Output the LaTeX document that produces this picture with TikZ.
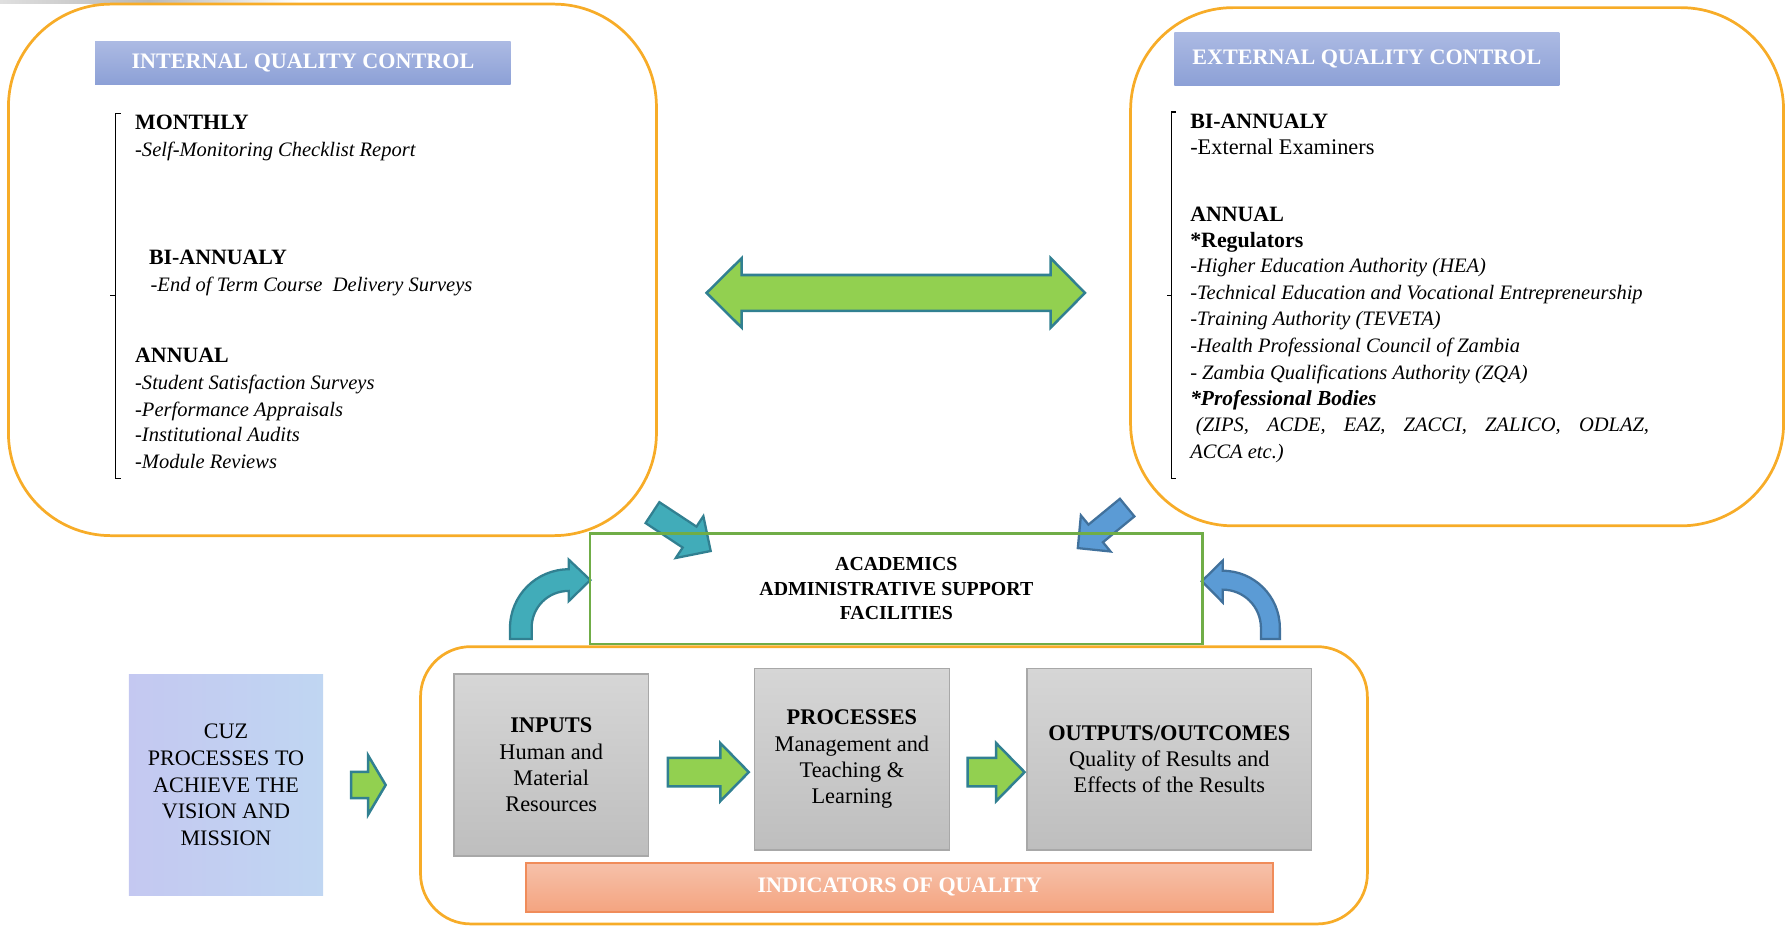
\documentclass[tikz,border=0pt]{standalone}
\usepackage{fontspec}
\setmainfont{Liberation Serif}

\definecolor{orbord}{RGB}{247,172,40}
\definecolor{titletop}{RGB}{172,186,227}
\definecolor{titlebot}{RGB}{140,160,214}
\definecolor{lgreen}{RGB}{146,208,80}
\definecolor{tealline}{RGB}{49,128,145}
\definecolor{tealfill}{RGB}{65,172,185}
\definecolor{bluefill}{RGB}{91,155,213}
\definecolor{blueline}{RGB}{65,113,156}
\definecolor{boxgreen}{RGB}{112,173,71}
\definecolor{graytop}{RGB}{214,214,214}
\definecolor{graybot}{RGB}{190,190,190}
\definecolor{grayline}{RGB}{168,168,168}
\definecolor{indtop}{RGB}{246,193,170}
\definecolor{indbot}{RGB}{244,164,128}
\definecolor{indline}{RGB}{240,140,90}
\definecolor{cuzleft}{RGB}{196,200,241}
\definecolor{cuzright}{RGB}{192,214,242}

\begin{document}
\begin{tikzpicture}[x=0.5pt,y=-0.5pt,
    orbox/.style={draw=orbord, line width=1.2pt},
    qtitle/.style={top color=titletop, bottom color=titlebot, text=white, inner sep=0,
        font=\fontsize{9.7}{11.5}\selectfont\bfseries},
    qhead/.style={anchor=mid west, inner sep=0, font=\fontsize{9.6}{11.5}\selectfont\bfseries},
    qitem/.style={anchor=mid west, inner sep=0, font=\fontsize{9}{11.5}\selectfont\itshape},
    qtext/.style={anchor=mid west, inner sep=0, font=\fontsize{9.8}{11.5}\selectfont},
    gbox/.style={draw=grayline, line width=0.6pt, top color=graytop, bottom color=graybot,
        inner sep=0, align=center, font=\fontsize{9.8}{11.5}\selectfont},
    garrow/.style={fill=lgreen, draw=tealline, line width=1.1pt},
    tarrow/.style={fill=tealfill, draw=tealline, line width=1pt},
    barrow/.style={fill=bluefill, draw=blueline, line width=1pt}]
    \useasboundingbox (0,0) rectangle (1568,812);

    % smudge at the top
    \shade[left color=gray!25, right color=white, middle color=gray!55] (0,0) rectangle (262,3.3);

    % internal quality control
    \draw[orbox, rounded corners=45pt] (7.4,3.6) rectangle (576,470);
    \node[qtitle, minimum width=182.3pt, minimum height=19pt] (intitle) at (265.8,55.4) {INTERNAL QUALITY CONTROL};
    \draw[line width=0.5pt] (106,99.8) -- (101.5,99.8) -- (101.5,420) -- (106,420);
    \draw[line width=0.5pt] (101.5,259) -- (96.7,259);
    \node[qhead] (monthly) at (118.2,109.4) {MONTHLY};
    \node[qitem] (selfmon) at (118.2,133) {-Self-Monitoring Checklist Report};
    \node[qhead] (inbiann) at (130.4,227.4) {BI-ANNUALY};
    \node[qitem] (endterm) at (131.8,251) {-End of Term Course\ \ Delivery Surveys};
    \node[qhead] (inannual) at (118.2,313.6) {ANNUAL};
    \node[qitem] (satisf) at (118.2,337.3) {-Student Satisfaction Surveys};
    \node[qitem] (apprais) at (118.2,360.9) {-Performance Appraisals};
    \node[qitem] (audits) at (118.2,383.2) {-Institutional Audits};
    \node[qitem] (modrev) at (118.2,406.8) {-Module Reviews};

    % external quality control
    \draw[orbox, rounded corners=45pt] (992,6.7) rectangle (1565,461.4);
    \node[qtitle, minimum width=168.9pt, minimum height=23.6pt] (extitle) at (1199.4,51.7) {EXTERNAL QUALITY CONTROL};
    \draw[line width=0.5pt] (1032,98.3) -- (1028,98.3) -- (1028,420) -- (1032,420);
    \draw[line width=0.5pt] (1028,259.3) -- (1024,259.3);
    \node[qhead] (exbiann) at (1044,107.9) {BI-ANNUALY};
    \node[qtext] (examin) at (1044,131) {-External Examiners};
    \node[qhead] (exannual) at (1044,189.6) {ANNUAL};
    \node[qhead] (regul) at (1044,212.3) {*Regulators};
    \node[qitem] (hea) at (1044,234.4) {\upshape-\itshape Higher Education Authority (HEA)};
    \node[qitem] (techedu) at (1044,258) {-Technical Education and Vocational Entrepreneurship};
    \node[qitem] (teveta) at (1044,281.3) {-Training Authority (TEVETA)};
    \node[qitem] (hpcz) at (1044,304.9) {-Health Professional Council of Zambia};
    \node[qitem] (zqa) at (1044,328.2) {- Zambia Qualifications Authority (ZQA)};
    \node[qitem, font=\fontsize{9.4}{11.5}\selectfont\bfseries\itshape] (profbod) at (1044,351) {*Professional Bodies};
    \node[qitem] (bodies) at (1044,374.2) {\makebox[201.3pt][s]{\hspace{2.5pt}(ZIPS, ACDE, EAZ, ZACCI, ZALICO, ODLAZ,}};
    \node[qitem] (acca) at (1044,397.8) {ACCA etc.)};

    % two way arrow
    \draw[garrow] (620,257) -- (650.8,226.5) -- (650.8,241.3) -- (921.9,241.3) -- (921.9,226.5) -- (952,257)
        -- (921.9,287.5) -- (921.9,272.7) -- (650.8,272.7) -- (650.8,287.5) -- cycle;

    % arrows into the centre box
    \draw[tarrow, shift={(572.5,449.8)}, rotate=-33.4] (0,-11) -- (39,-11) -- (39,-22) -- (61.2,0)
        -- (39,22) -- (39,11) -- (0,11) -- cycle;
    \draw[barrow, shift={(989,445.4)}, rotate=-140.6] (0,-10) -- (35.7,-10) -- (35.7,-20.5) -- (56,0)
        -- (35.7,20.5) -- (35.7,10) -- (0,10) -- cycle;
    \draw[tarrow] (447.5,560.7) -- (447.5,551) .. controls (447.5,522.6) and (470.6,499.5) .. (499,499.5)
        -- (499,491) -- (518,509) -- (499,527.5) -- (499,518.5)
        .. controls (481,518.5) and (466.5,532.6) .. (466.5,551) -- (466.5,560.7) -- cycle;
    \draw[barrow] (1123,560.7) -- (1123,551) .. controls (1123,523.3) and (1100.5,500.8) .. (1072.8,500.8)
        -- (1072.8,492) -- (1054.5,510) -- (1072.8,528.5) -- (1072.8,517.4)
        .. controls (1091.4,517.4) and (1106.4,532.4) .. (1106.4,551) -- (1106.4,560.7) -- cycle;

    % centre box
    \node[draw=boxgreen, line width=1pt, minimum width=268.5pt, minimum height=48.5pt, align=center,
        font=\fontsize{8.7}{10.75}\selectfont\bfseries] (academics) at (786.5,516.5)
        {ACADEMICS\\ADMINISTRATIVE SUPPORT\\FACILITIES};

    % cuz processes
    \node[left color=cuzleft, right color=cuzright, minimum width=85.3pt, minimum height=97.3pt,
        inner sep=0, align=center, font=\fontsize{9.7}{11.7}\selectfont] (cuz) at (198.3,688.7)
        {CUZ\\PROCESSES TO\\ACHIEVE THE\\VISION AND\\MISSION};
    \draw[garrow] (308,677.3) -- (323,677.3) -- (323,662.8) -- (338.4,688.8) -- (323,714.8) -- (323,700.3)
        -- (308,700.3) -- cycle;

    % input process output
    \draw[orbox, rounded corners=22pt] (369,567.4) rectangle (1199.8,810.7);
    \node[gbox, minimum width=85.2pt, minimum height=79.8pt] (inputs) at (483.7,671.2)
        {\textbf{INPUTS}\\Human and\\Material\\Resources};
    \node[gbox, minimum width=85.5pt, minimum height=79.7pt] (processes) at (747.5,666.1)
        {\textbf{PROCESSES}\\Management and\\Teaching \&\\Learning};
    \node[gbox, minimum width=125pt, minimum height=79.7pt] (outputs) at (1026,666.1)
        {\textbf{OUTPUTS/OUTCOMES}\\Quality of Results and\\Effects of the Results};
    \draw[garrow] (586,665) -- (632,665) -- (632,652) -- (657,677.5) -- (632,703) -- (632,690) -- (586,690) -- cycle;
    \draw[garrow] (849,665) -- (874,665) -- (874,652) -- (899,677.5) -- (874,703) -- (874,690) -- (849,690) -- cycle;
    \node[draw=indline, line width=0.8pt, top color=indtop, bottom color=indbot, text=white,
        minimum width=327.6pt, minimum height=21.5pt, inner sep=0,
        font=\fontsize{9.7}{11.5}\selectfont\bfseries] (indic) at (789.4,778.5) {INDICATORS OF QUALITY};
\end{tikzpicture}
\end{document}
